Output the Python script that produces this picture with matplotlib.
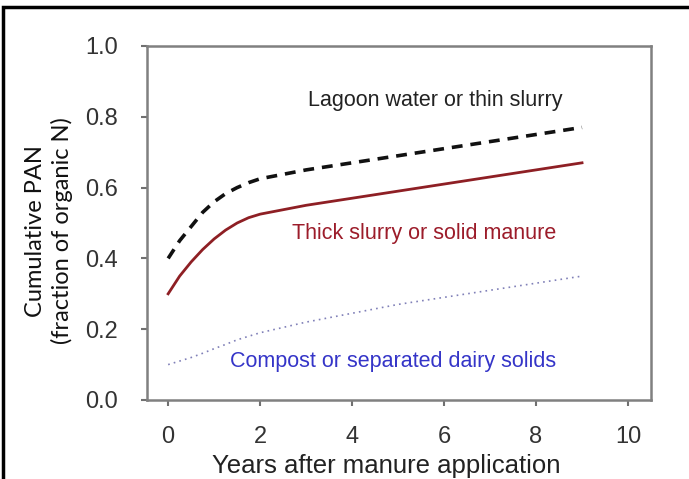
import matplotlib
matplotlib.use("Agg")
import matplotlib.pyplot as plt
from matplotlib.patches import Rectangle

years = [0, 0.25, 0.5, 0.75, 1, 1.25, 1.5, 1.75, 2, 3, 4, 5, 6, 7, 8, 9]
lagoon = [0.40, 0.45, 0.49, 0.53, 0.56, 0.583, 0.60, 0.614, 0.625, 0.65, 0.67, 0.69, 0.71, 0.73, 0.75, 0.77]
thick = [0.30, 0.35, 0.39, 0.425, 0.455, 0.48, 0.50, 0.515, 0.525, 0.55, 0.57, 0.59, 0.61, 0.63, 0.65, 0.67]
compost = [0.10, 0.11, 0.12, 0.132, 0.145, 0.157, 0.17, 0.18, 0.19, 0.22, 0.245, 0.27, 0.29, 0.31, 0.33, 0.35]

x_ticks = [0, 2, 4, 6, 8, 10]
y_ticks = [0.0, 0.2, 0.4, 0.6, 0.8, 1.0]

W, H = 689, 479
fig = plt.figure(figsize=(W / 100, H / 100), dpi=100)
ax = fig.add_axes([147 / W, 1 - 400 / H, (651 - 147) / W, (400 - 46) / H])

ax.plot(years, lagoon, color="#111111", lw=2.6, linestyle=(0, (3, 2.2)))
ax.plot(years, thick, color="#8e1f24", lw=2.0)
ax.plot(years, compost, color="#8080b8", lw=1.2, linestyle=(0, (1, 2.5)))

ax.set_xlim(-0.46, 10.5)
ax.set_ylim(0, 1.0)
ax.set_xticks(x_ticks)
ax.set_xticklabels([str(t) for t in x_ticks])
ax.set_yticks(y_ticks)
ax.set_yticklabels([f"{t:.1f}" for t in y_ticks])

for s in ax.spines.values():
    s.set_color("#808080")
    s.set_linewidth(1.8)

ax.tick_params(axis="both", direction="out", length=4, width=1.5, color="#707070",
               labelsize=17, labelcolor="#333333")
ax.tick_params(axis="y", pad=17)
ax.tick_params(axis="x", pad=15)
for lab in ax.get_xticklabels() + ax.get_yticklabels():
    lab.set_family("Liberation Sans")

fig.text(386 / W, 1 - 466 / H, "Years after manure application", fontsize=18.5,
         family="Liberation Sans", color="#222222", ha="center", va="center")

fig.text(49 / W, 1 - 231 / H, "Cumulative PAN\n(fraction of organic N)", rotation=90,
         ha="center", va="center", fontsize=17, family="Lato", color="#111111",
         linespacing=1.3)

ax.text(5.8, 0.847, "Lagoon water or thin slurry", fontsize=15.5, family="Liberation Sans",
        color="#222222", ha="center", va="center")
ax.text(5.57, 0.47, "Thick slurry or solid manure", fontsize=15.5, family="Liberation Sans",
        color="#9c1c2a", ha="center", va="center")
ax.text(4.89, 0.11, "Compost or separated dairy solids", fontsize=15.5, family="Liberation Sans",
        color="#3535c8", ha="center", va="center")

fig.patches.append(Rectangle((3 / W, -0.2), 1.5, 1.2 - 7 / H, transform=fig.transFigure,
                             fill=False, edgecolor="black", linewidth=2.5))

fig.savefig("out.png", dpi=100)
